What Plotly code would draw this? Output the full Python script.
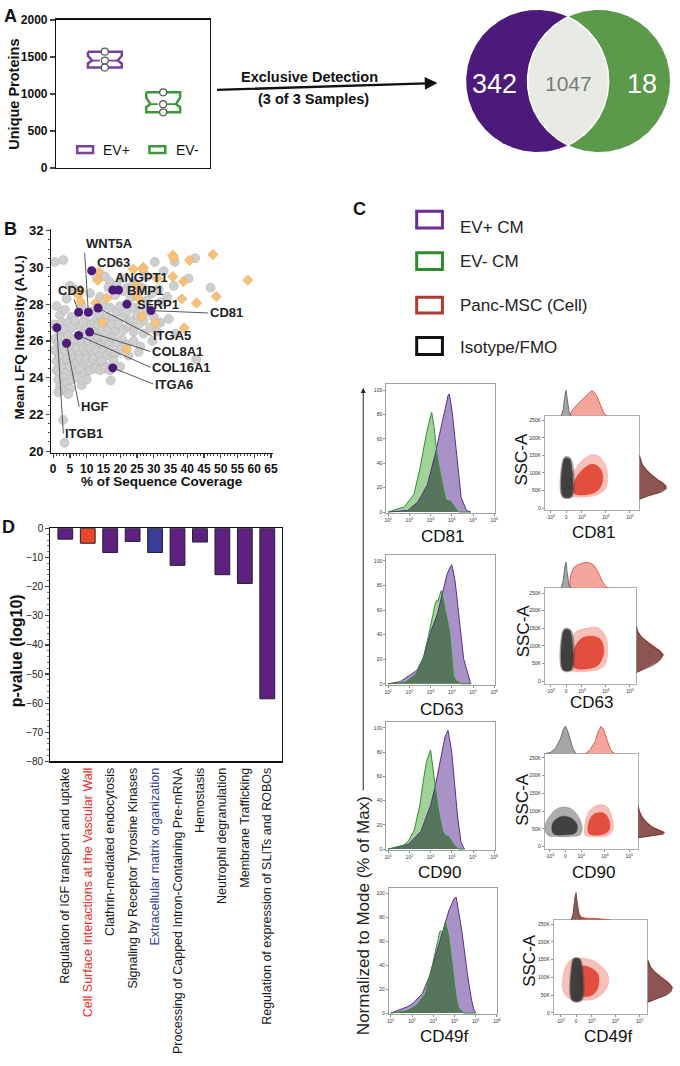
import numpy as np
import plotly.graph_objects as go

W, H = 680, 1066
SANS = "Arial, 'Liberation Sans', Helvetica, sans-serif"
NARROW = "'Liberation Sans Narrow', 'Arial Narrow', Arial, 'Liberation Sans', sans-serif"

# ============================ DATA ============================
# --- Panel A: number of unique proteins (3 samples per prep) ---
a_groups = ["EV+", "EV-"]
a_unique_ev_plus = [1570, 1450, 1355]
a_unique_ev_minus = [1020, 860, 750]
a_yticks = [0, 500, 1000, 1500, 2000]

# --- Venn: exclusive detection (3 of 3 samples): EV+ only, shared, EV- only ---
venn_counts = [342, 1047, 18]

# --- Panel B: % sequence coverage vs mean LFQ intensity ---
b_other_proteins = [
    (0.5, 30.3), (3.0, 30.4), (5.0, 29.0), (6.5, 28.8), (4.0, 28.3), (1.0, 27.9), (11.0, 28.6),
    (13.0, 29.5), (15.5, 29.5), (17.0, 29.2), (19.0, 29.0), (20.5, 29.4), (22.0, 28.9), (24.0, 29.2),
    (27.0, 29.7), (28.0, 29.5), (30.3, 30.3), (33.0, 29.8), (36.3, 30.3), (42.4, 30.5), (40.4, 29.4),
    (36.0, 29.0), (47.0, 28.9), (29.5, 28.6), (31.5, 28.8), (14.0, 28.4), (16.5, 28.9), (18.5, 28.5),
    (21.0, 28.7), (23.0, 28.3), (24.5, 28.6), (26.5, 28.9), (28.0, 28.2), (32.0, 28.1), (34.0, 28.4),
    (2.0, 27.4), (3.5, 27.7), (5.5, 27.3), (8.5, 27.9), (9.5, 27.2), (11.5, 27.6), (12.5, 27.1),
    (14.0, 27.4), (15.0, 27.9), (16.0, 27.3), (17.0, 27.8), (18.0, 27.2), (19.0, 27.6), (20.0, 27.9),
    (21.0, 27.3), (22.0, 27.6), (23.0, 27.1), (24.0, 27.8), (25.0, 27.4), (26.0, 27.9), (27.0, 27.1),
    (28.0, 27.6), (30.0, 27.3), (32.0, 27.0), (34.5, 27.2), (29.0, 26.7), (31.0, 26.5),
    (0.3, 26.9), (1.5, 26.6), (2.5, 27.0), (3.5, 26.6), (4.5, 27.0), (5.5, 26.7), (6.5, 27.1),
    (8.0, 26.8), (9.0, 27.0), (10.0, 26.6), (11.5, 26.9), (12.5, 26.5), (13.5, 26.9), (14.5, 26.6),
    (15.5, 27.0), (16.5, 26.6), (17.5, 26.9), (18.5, 26.5), (19.5, 26.9), (21.0, 26.6), (22.5, 26.8),
    (24.0, 26.5), (25.5, 26.9), (27.0, 26.4), (36.5, 26.4),
    (0.5, 26.1), (1.5, 25.9), (2.5, 26.2), (3.5, 26.1), (4.5, 26.3), (5.5, 25.9), (6.5, 26.1),
    (8.5, 26.0), (9.5, 26.3), (10.5, 25.9), (11.5, 26.2), (12.5, 25.9), (13.5, 26.2), (14.5, 25.8),
    (15.5, 26.1), (16.5, 25.8), (17.5, 26.2), (19.0, 25.9), (20.5, 26.1), (22.0, 25.8), (24.0, 26.0),
    (26.0, 25.7), (29.6, 26.0),
    (0.5, 25.5), (1.5, 25.3), (2.5, 25.6), (3.5, 25.4), (5.0, 25.6), (6.0, 25.3), (7.0, 25.6),
    (8.0, 25.3), (9.0, 25.6), (10.0, 25.4), (11.0, 25.6), (12.0, 25.3), (13.0, 25.5), (14.0, 25.2),
    (15.0, 25.5), (16.0, 25.2), (17.0, 25.5), (18.5, 25.3), (20.0, 25.5), (22.5, 25.2), (25.5, 25.4),
    (1.0, 24.9), (2.0, 25.1), (3.0, 24.8), (4.0, 25.0), (5.0, 24.8), (6.0, 25.0), (7.0, 24.8),
    (8.0, 25.0), (9.0, 24.7), (10.0, 25.0), (11.0, 24.8), (12.0, 25.0), (13.0, 24.7), (14.5, 24.9),
    (16.0, 24.6), (18.0, 24.9), (20.0, 24.6), (42.7, 25.0),
    (1.0, 24.4), (2.0, 24.2), (3.0, 24.5), (4.0, 24.3), (5.0, 24.6), (6.5, 24.3), (8.0, 24.5),
    (9.5, 24.2), (11.0, 24.4), (12.5, 24.5), (14.0, 24.4), (15.5, 24.5), (17.0, 24.4),
    (1.5, 23.9), (3.0, 24.0), (4.0, 23.7), (5.5, 23.9), (7.0, 24.0), (8.5, 23.6), (10.0, 23.9),
    (17.2, 23.85), (2.0, 23.5), (3.5, 23.3), (5.0, 23.4), (1.5, 23.2), (4.5, 23.1),
    (3.0, 21.7), (3.4, 20.45),
]
b_ev_exclusive = [
    (13.7, 29.76), (13.3, 29.3), (8.1, 28.77), (7.6, 28.47), (8.2, 28.15), (12.7, 28.06), (16.1, 28.33),
    (14.7, 27.0), (22.0, 25.55), (25.0, 28.5), (26.5, 27.34), (23.9, 29.9), (26.9, 30.0), (31.0, 29.4),
    (35.7, 30.66), (36.0, 30.5), (35.7, 29.5), (38.9, 29.23), (40.7, 30.39), (47.7, 30.7), (58.1, 29.31),
    (38.4, 28.29), (42.8, 28.06), (48.7, 28.42), (30.5, 26.98), (39.1, 26.7), (25.6, 28.3), (25.1, 29.04),
    (26.8, 29.94),
]
b_names = ["CD63", "ANGPT1", "BMP1", "SFRP1", "CD81", "CD9", "WNT5A", "ITGA5",
           "COL8A1", "COL16A1", "ITGA6", "HGF", "ITGB1"]
b_coverage = [11.5, 17.8, 19.5, 22.0, 29.2, 7.6, 10.5, 13.4, 10.9, 7.6, 17.8, 4.0, 1.1]
b_lfq = [29.82, 28.77, 28.77, 28.0, 27.65, 27.56, 27.56, 27.79, 26.48, 26.3, 24.53, 25.87, 26.72]

# --- Panel D: Reactome pathways ---
d_pathways = [
    "Regulation of IGF transport and uptake",
    "Cell Surface Interactions at the Vascular Wall",
    "Clathrin-mediated endocytosis",
    "Signaling by Receptor Tyrosine Kinases",
    "Extracellular matrix organization",
    "Processing of Capped Intron-Containing Pre-mRNA",
    "Hemostasis",
    "Neutrophil degranulation",
    "Membrane Trafficking",
    "Regulation of expression of SLITs and ROBOs",
]
d_log10_p = [-3.7, -5.1, -8.3, -4.5, -8.3, -12.7, -4.7, -15.9, -18.9, -58.5]
d_yticks = [0, -10, -20, -30, -40, -50, -60, -70, -80]

# --- Panel C: flow cytometry ---
c_markers = ["CD81", "CD63", "CD90", "CD49f"]
c_legend = ["EV+ CM", "EV- CM", "Panc-MSC (Cell)", "Isotype/FMO"]

# histograms: log10 fluorescence vs % of max
cd81_evp_log = [1.0, 1.9, 2.36, 2.82, 3.13, 3.36, 3.56, 3.7, 3.8, 3.88, 3.95, 4.05, 4.13, 4.29, 4.44, 4.67, 4.9]
cd81_evp_pct = [0, 1, 7, 20.6, 40, 59, 75.5, 88, 95, 97, 91, 78, 64.5, 34, 12, 1.4, 0]
cd81_evm_log = [1.0, 1.28, 1.74, 1.97, 2.2, 2.43, 2.59, 2.74, 2.9, 2.98, 3.05, 3.1, 3.16, 3.28, 3.51, 3.67, 3.8, 3.9, 4.0, 4.13, 4.29]
cd81_evm_pct = [0, 2, 3.6, 9.6, 13.7, 28.8, 45, 59, 72, 77, 82, 78, 70, 48, 26, 11, 9, 9.6, 7, 4, 0]

cd63_evp_log = [1.0, 1.5, 1.97, 2.36, 2.67, 2.9, 3.1, 3.3, 3.5, 3.7, 3.85, 4.0, 4.1, 4.2, 4.3, 4.45, 4.52, 4.75, 4.9]
cd63_evp_pct = [0, 1, 6, 11, 21, 37, 47, 55, 70, 85, 93, 97, 90, 78, 60, 35, 23, 7, 0]
cd63_evm_log = [1.3, 1.8, 2.28, 2.59, 2.82, 3.0, 3.15, 3.28, 3.35, 3.42, 3.51, 3.6, 3.75, 3.9, 3.97, 4.05, 4.15, 4.4]
cd63_evm_pct = [0, 1, 7, 16.5, 31.5, 48, 62, 68, 67, 72, 76, 66, 56, 42, 25, 8, 3, 0]

cd90_evp_log = [1.0, 1.9, 2.52, 2.9, 3.16, 3.36, 3.56, 3.67, 3.82, 3.98, 4.13, 4.29, 4.44, 4.6]
cd90_evp_pct = [0, 3, 13.5, 30, 46, 65, 84, 92, 98, 84, 51, 24, 5, 0]
cd90_evm_log = [1.0, 1.6, 1.9, 2.2, 2.43, 2.59, 2.74, 2.87, 3.0, 3.1, 3.2, 3.36, 3.51, 3.67, 3.82, 4.05, 4.29]
cd90_evm_pct = [0, 2, 5, 13.5, 30, 46, 67.5, 76, 82, 67.5, 51, 32.5, 17.5, 11, 11, 4, 0]

cd49f_evp_log = [1.0, 1.51, 1.98, 2.45, 2.76, 2.99, 3.23, 3.46, 3.7, 3.93, 4.08, 4.24, 4.44, 4.63, 4.86, 5.0]
cd49f_evp_pct = [0, 3, 7, 15, 27, 41, 57, 71, 84, 95, 97, 82, 57, 30, 5, 0]
cd49f_evm_log = [1.0, 1.65, 2.14, 2.61, 2.84, 3.1, 3.26, 3.35, 3.46, 3.57, 3.7, 3.85, 4.0, 4.16, 4.4]
cd49f_evm_pct = [0, 1, 5, 15, 30, 52, 67, 69, 67, 76, 68, 49, 22, 5, 0]

# scatter clouds (fluorescence, SSC-A) outlines of the cell (red) and isotype (grey) populations
cd81_iso_core = [(-134, 33e3), (229, 33e3), (229, 128e3), (150, 140e3), (-44, 142e3), (-134, 130e3)]
cd81_iso_outer = [(-180, 31e3), (300, 31e3), (300, 130e3), (150, 145e3), (-60, 146e3), (-180, 132e3)]
cd81_cell_outer = [(229, 36e3), (650, 31e3), (1830, 32e3), (4740, 38e3), (10100, 55e3), (12170, 90e3),
                   (10100, 120e3), (5220, 148e3), (2440, 152e3), (1115, 138e3), (510, 115e3), (229, 90e3)]
cd81_cell_core = [(387, 42e3), (1505, 38e3), (4740, 50e3), (7600, 80e3), (6300, 110e3), (2850, 125e3),
                  (1115, 110e3), (450, 80e3)]

cd63_iso_core = [(-134, 33e3), (229, 33e3), (229, 135e3), (150, 145e3), (-44, 147e3), (-134, 138e3)]
cd63_iso_outer = [(-180, 31e3), (300, 31e3), (300, 138e3), (150, 149e3), (-60, 150e3), (-180, 140e3)]
cd63_cell_outer = [(229, 32e3), (900, 27e3), (2440, 29e3), (5730, 35e3), (10100, 50e3), (12170, 90e3),
                   (10100, 128e3), (4740, 152e3), (1505, 150e3), (510, 140e3), (229, 110e3)]
cd63_cell_core = [(387, 40e3), (1505, 35e3), (4740, 45e3), (8350, 80e3), (6300, 118e3), (2440, 128e3),
                  (900, 120e3), (387, 90e3)]

cd90_iso_core = [(-650, 36e3), (0, 33e3), (510, 38e3), (650, 60e3), (279, 80e3), (-181, 85e3), (-730, 65e3)]
cd90_iso_outer = [(-1230, 32e3), (-387, 28e3), (279, 28e3), (900, 33e3), (1115, 55e3), (730, 85e3),
                  (229, 108e3), (-279, 110e3), (-900, 90e3), (-1660, 55e3)]
cd90_cell_outer = [(1505, 32e3), (3930, 28e3), (12170, 30e3), (21400, 45e3), (19460, 85e3), (12170, 112e3),
                   (5220, 118e3), (2220, 100e3), (1505, 70e3)]
cd90_cell_core = [(2220, 36e3), (6910, 33e3), (14680, 45e3), (14680, 75e3), (8350, 95e3), (3250, 90e3),
                  (2015, 60e3)]

cd49f_iso_core = [(-160, 36e3), (229, 36e3), (229, 140e3), (130, 152e3), (-100, 152e3), (-160, 140e3)]
cd49f_iso_outer = [(-200, 34e3), (280, 34e3), (280, 142e3), (130, 155e3), (-100, 155e3), (-200, 142e3)]
cd49f_cell_outer = [(-730, 60e3), (-300, 40e3), (229, 36e3), (1115, 38e3), (2440, 50e3), (4740, 75e3),
                    (4740, 110e3), (1830, 140e3), (650, 152e3), (-229, 150e3), (-650, 120e3)]
cd49f_cell_core = [(229, 50e3), (900, 48e3), (1830, 70e3), (1830, 110e3), (650, 130e3), (229, 130e3)]

# top marginal histograms (fluorescence, relative height)
cd81_top_iso_fl = [-229, -134, -44, 0, 44, 134, 229]
cd81_top_iso_h = [0, 0.25, 0.85, 1.0, 0.7, 0.15, 0]
cd81_top_cell_fl = [134, 279, 510, 900, 1505, 2220, 2690, 3570, 4740, 6300, 8350, 11090]
cd81_top_cell_h = [0, 0.2, 0.4, 0.58, 0.75, 0.9, 1.0, 0.9, 0.7, 0.4, 0.12, 0]
cd63_top_iso_fl = [-229, -134, -44, 0, 44, 134, 229]
cd63_top_iso_h = [0, 0.3, 0.9, 1.0, 0.6, 0.12, 0]
cd63_top_cell_fl = [134, 229, 387, 650, 1000, 1505, 2220, 3250, 4740, 6910, 10100, 13350]
cd63_top_cell_h = [0, 0.55, 0.8, 0.9, 0.95, 1.0, 0.97, 0.88, 0.65, 0.3, 0.07, 0]
cd90_top_iso_fl = [-1660, -900, -510, -229, -89, 0, 89, 229, 387, 575]
cd90_top_iso_h = [0, 0.05, 0.2, 0.55, 0.9, 1.0, 0.85, 0.45, 0.15, 0]
cd90_top_cell_fl = [1505, 2440, 3930, 5220, 6910, 9170, 12170, 17700, 25800]
cd90_top_cell_h = [0, 0.15, 0.45, 0.8, 1.0, 0.85, 0.5, 0.12, 0]
cd49f_top_iso_fl = [-229, -134, -44, 0, 44, 134, 229]
cd49f_top_iso_h = [0, 0.2, 0.8, 0.95, 0.6, 0.15, 0]
cd49f_top_cell_fl = [-229, -134, -44, 0, 44, 134, 229, 510, 1505, 3930, 6300]
cd49f_top_cell_h = [0, 0.2, 0.85, 1.0, 0.7, 0.25, 0.1, 0.06, 0.05, 0.02, 0]

# side marginal histograms (SSC-A, relative width)
cd81_side_ssc = [25e3, 35e3, 45e3, 55e3, 62e3, 70e3, 80e3, 95e3, 110e3, 125e3, 140e3, 150e3]
cd81_side_cell_w = [0, 0.3, 0.75, 0.95, 1.0, 0.9, 0.7, 0.45, 0.25, 0.1, 0.03, 0]
cd81_side_iso_w = [0, 0.35, 0.8, 1.0, 0.95, 0.85, 0.65, 0.42, 0.22, 0.1, 0.03, 0]
cd63_side_ssc = [25e3, 35e3, 45e3, 55e3, 65e3, 75e3, 85e3, 95e3, 110e3, 125e3, 140e3, 155e3]
cd63_side_cell_w = [0, 0.25, 0.55, 0.75, 0.9, 1.0, 0.9, 0.7, 0.45, 0.2, 0.06, 0]
cd63_side_iso_w = [0, 0.3, 0.6, 0.8, 0.92, 0.95, 0.85, 0.65, 0.4, 0.18, 0.05, 0]
cd90_side_ssc = [25e3, 30e3, 35e3, 40e3, 45e3, 55e3, 70e3, 85e3, 100e3, 115e3]
cd90_side_cell_w = [0, 0.6, 0.95, 1.0, 0.85, 0.55, 0.3, 0.15, 0.05, 0]
cd90_side_iso_w = [0, 0.55, 0.9, 0.95, 0.8, 0.5, 0.27, 0.12, 0.04, 0]
cd49f_side_ssc = [30e3, 40e3, 50e3, 60e3, 72e3, 85e3, 100e3, 115e3, 130e3, 150e3]
cd49f_side_cell_w = [0, 0.35, 0.7, 0.9, 1.0, 0.85, 0.55, 0.3, 0.12, 0]
cd49f_side_iso_w = [0, 0.4, 0.75, 0.95, 0.98, 0.8, 0.5, 0.27, 0.1, 0]

c_hist_ticks = [10, 100, 1000, 1e4, 1e5, 1e6]
c_hist_ticktext = ["10<sup>1</sup>", "10<sup>2</sup>", "10<sup>3</sup>", "10<sup>4</sup>", "10<sup>5</sup>", "10<sup>6</sup>"]
c_fl_ticks = [-1000, 0, 1000, 1e4, 1e5]
c_fl_ticktext = ["-10<sup>3</sup>", "0", "10<sup>3</sup>", "10<sup>4</sup>", "10<sup>5</sup>"]
c_ssc_ticks = [0, 50e3, 100e3, 150e3, 200e3, 250e3]
c_ssc_ticktext = ["0", "50K", "100K", "150K", "200K", "250K"]

# tables assembled from the named arrays
C_HIST = [(cd81_evp_log, cd81_evp_pct, cd81_evm_log, cd81_evm_pct),
          (cd63_evp_log, cd63_evp_pct, cd63_evm_log, cd63_evm_pct),
          (cd90_evp_log, cd90_evp_pct, cd90_evm_log, cd90_evm_pct),
          (cd49f_evp_log, cd49f_evp_pct, cd49f_evm_log, cd49f_evm_pct)]
C_CLOUD = [(cd81_cell_outer, cd81_cell_core, cd81_iso_outer, cd81_iso_core),
           (cd63_cell_outer, cd63_cell_core, cd63_iso_outer, cd63_iso_core),
           (cd90_cell_outer, cd90_cell_core, cd90_iso_outer, cd90_iso_core),
           (cd49f_cell_outer, cd49f_cell_core, cd49f_iso_outer, cd49f_iso_core)]
C_TOP = [(cd81_top_iso_fl, cd81_top_iso_h, cd81_top_cell_fl, cd81_top_cell_h),
         (cd63_top_iso_fl, cd63_top_iso_h, cd63_top_cell_fl, cd63_top_cell_h),
         (cd90_top_iso_fl, cd90_top_iso_h, cd90_top_cell_fl, cd90_top_cell_h),
         (cd49f_top_iso_fl, cd49f_top_iso_h, cd49f_top_cell_fl, cd49f_top_cell_h)]
C_SIDE = [(cd81_side_ssc, cd81_side_cell_w, cd81_side_iso_w),
          (cd63_side_ssc, cd63_side_cell_w, cd63_side_iso_w),
          (cd90_side_ssc, cd90_side_cell_w, cd90_side_iso_w),
          (cd49f_side_ssc, cd49f_side_cell_w, cd49f_side_iso_w)]

# ============================ HELPERS ============================
def xk(i): return "xaxis" if i == 1 else f"xaxis{i}"
def yk(i): return "yaxis" if i == 1 else f"yaxis{i}"
def xr(i): return "x" if i == 1 else f"x{i}"
def yr(i): return "y" if i == 1 else f"y{i}"
def dom_x(a, b): return [a / W, b / W]
def dom_y(top, bot): return [1 - bot / H, 1 - top / H]
def PX(x): return x / W
def PY(y): return 1 - y / H

def biex(v):
    return 10.64 * np.arcsinh(np.asarray(v, dtype=float) / 470.0)

fig = go.Figure()
LAY = {}
ann = []
shp = []

def text(x, y, s, size=12, color="#111", bold=False, xanchor="center", yanchor="middle", angle=0, family=SANS):
    ann.append(dict(x=PX(x), y=PY(y), xref="paper", yref="paper", text=s, showarrow=False,
                    xanchor=xanchor, yanchor=yanchor, textangle=angle,
                    font=dict(family=family, size=size, color=color, weight="bold" if bold else "normal")))

BASE_AX = dict(showgrid=False, zeroline=False, fixedrange=True)

# ============================ PANEL A ============================
A_COL = ["#7b3f9e", "#3a9a3a"]
A_W, A_NW, A_MW = 0.29, 0.22, 0.24
LAY[xk(1)] = dict(BASE_AX, domain=dom_x(55, 210), range=[-0.83, 1.8], showline=True, mirror=True,
                  linecolor="#111", linewidth=1.5, showticklabels=False, ticks="", anchor="y")
LAY[yk(1)] = dict(BASE_AX, domain=dom_y(13, 163), range=[0, 2000], tickvals=a_yticks, showline=True,
                  mirror=True, linecolor="#111", linewidth=1.5, ticks="outside", ticklen=5, tickwidth=1.5,
                  tickfont=dict(family=SANS, size=12, color="#111", weight="bold"), anchor="x")
for c, vals, col in zip([0, 1], [a_unique_ev_plus, a_unique_ev_minus], A_COL):
    v = np.array(vals, dtype=float)
    q1, med, q3 = v.min(), np.median(v), v.max()
    s = 0.26 * (q3 - q1)
    bx = [c - A_W, c + A_W, c + A_W, c + A_NW, c + A_W, c + A_W, c - A_W, c - A_W, c - A_NW, c - A_W, c - A_W]
    by = [q3, q3, q3 - s, med, q1 + s, q1, q1, q1 + s, med, q3 - s, q3]
    fig.add_trace(go.Scatter(x=bx, y=by, mode="lines", line=dict(color=col, width=2.5), xaxis="x", yaxis="y"))
    fig.add_trace(go.Scatter(x=[c - A_MW, c + A_MW], y=[med, med], mode="lines",
                             line=dict(color=col, width=1.8, dash="dash"), xaxis="x", yaxis="y"))
    fig.add_trace(go.Scatter(x=[c] * len(v), y=v, mode="markers",
                             marker=dict(size=7, color="white", line=dict(color="#555", width=1.2)),
                             xaxis="x", yaxis="y"))
# legend of panel A
for (x0, x1, tx), col, lab in zip([(76, 92, 100), (149, 165, 174)], A_COL, a_groups):
    shp.append(dict(type="rect", xref="paper", yref="paper", x0=PX(x0), x1=PX(x1), y0=PY(148), y1=PY(141),
                    line=dict(color=col, width=2.5), fillcolor="white"))
    text(tx, 145, lab, size=14, xanchor="left")
text(12, 88, "Unique Proteins", size=14.5, bold=True, angle=-90)
text(9, 9, "A", size=18, bold=True)

# arrow + text
ann.append(dict(x=PX(440), y=PY(77), xref="paper", yref="paper", ax=-222, ay=7, axref="pixel", ayref="pixel",
                showarrow=True, arrowhead=2, arrowsize=1.1, arrowwidth=2.3, arrowcolor="#111", text=""))
text(311, 71, "Exclusive Detection", size=14.5, bold=True)
text(315, 93, "(3 of 3 Samples)", size=14.5, bold=True)

# ============================ VENN ============================
VC = [(541.0, 75.0), (603.0, 75.0)]
VR = 72.0
LAY[xk(4)] = dict(BASE_AX, domain=dom_x(455, 680), range=[455, 680], visible=False, anchor="y4")
LAY[yk(4)] = dict(BASE_AX, domain=dom_y(0, 155), range=[155, 0], visible=False, anchor="x4")
th = np.linspace(0, 2 * np.pi, 361)
for (cx, cy), col in zip(VC, ["#4b1a7b", "#5b9a4a"]):
    fig.add_trace(go.Scatter(x=cx + VR * np.cos(th), y=cy + VR * np.sin(th), mode="lines", fill="toself",
                             fillcolor=col, line=dict(width=0), xaxis="x4", yaxis="y4"))
half = (VC[1][0] - VC[0][0]) / 2
alpha = np.arccos(half / VR)
t1 = np.linspace(-alpha, alpha, 120)
t2 = np.linspace(np.pi - alpha, np.pi + alpha, 120)
lx = np.concatenate([VC[0][0] + VR * np.cos(t1), VC[1][0] + VR * np.cos(t2)])
ly = np.concatenate([VC[0][1] + VR * np.sin(t1), VC[1][1] + VR * np.sin(t2)])
fig.add_trace(go.Scatter(x=lx, y=ly, mode="lines", fill="toself", fillcolor="#e7ebe3",
                         line=dict(color="white", width=1.5), xaxis="x4", yaxis="y4"))
text(498, 78, str(venn_counts[0]), size=27, color="white", family=NARROW)
text(572, 78, str(venn_counts[1]), size=21, color="#7a7a7a", family=NARROW)
text(647, 78, str(venn_counts[2]), size=27, color="white", family=NARROW)

# ============================ PANEL B ============================
def bx_(p): return (p - 51.7) / 3.385
def by_(p): return 32 - (p - 226.7) / 18.6

LAY[xk(2)] = dict(BASE_AX, domain=dom_x(50.0, 273.4), range=[-0.5, 65.5], tickvals=list(range(0, 70, 5)),
                  showline=True, linecolor="#111", linewidth=1.5, ticks="outside", ticklen=4, tickwidth=1.2,
                  minor=dict(dtick=1, ticks="outside", ticklen=2, tickwidth=1),
                  tickfont=dict(family=SANS, size=12, color="#111", weight="bold"), anchor="y2")
LAY[yk(2)] = dict(BASE_AX, domain=dom_y(224.8, 451.9), range=[19.9, 32.1], tickvals=list(range(20, 34, 2)),
                  showline=True, linecolor="#111", linewidth=1.5, ticks="outside", ticklen=4, tickwidth=1.2,
                  minor=dict(dtick=0.5, ticks="outside", ticklen=2, tickwidth=1),
                  tickfont=dict(family=SANS, size=13, color="#111", weight="bold"), anchor="x2")
fig.add_trace(go.Scatter(x=[p[0] for p in b_other_proteins], y=[p[1] for p in b_other_proteins], mode="markers",
                         marker=dict(size=9, color="#cfcfcf", line=dict(color="#b3b3b3", width=0.6)),
                         xaxis="x2", yaxis="y2", cliponaxis=False))
fig.add_trace(go.Scatter(x=[p[0] for p in b_ev_exclusive], y=[p[1] for p in b_ev_exclusive], mode="markers",
                         marker=dict(size=8, symbol="diamond", color="#f6c27c", line=dict(color="#e8a850", width=0.6)),
                         xaxis="x2", yaxis="y2"))
fig.add_trace(go.Scatter(x=b_coverage, y=b_lfq, mode="markers",
                         marker=dict(size=9, color="#4b1a7b"), xaxis="x2", yaxis="y2", cliponaxis=False))
B_LABEL_POS = {  # label pixel anchor, anchor side, leader line
    "CD63": (94, 259, "left", False), "ANGPT1": (112, 274, "left", False),
    "BMP1": (124, 287, "left", False), "SFRP1": (134, 301, "left", False),
    "CD81": (208, 310, "left", True), "CD9": (69.5, 287, "center", True),
    "WNT5A": (83, 240, "left", True), "ITGA5": (151, 333, "left", True),
    "COL8A1": (150, 349, "left", True), "COL16A1": (150, 365, "left", True),
    "ITGA6": (153, 382, "left", True), "HGF": (78, 405, "left", True),
    "ITGB1": (62, 432, "left", True),
}
for name, cx, cy in zip(b_names, b_coverage, b_lfq):
    lx_, ly_, anc, line = B_LABEL_POS[name]
    f = dict(family=SANS, size=13, color="#222", weight="bold")
    if line:
        ann.append(dict(x=cx, y=cy, xref="x2", yref="y2", ax=bx_(lx_), ay=by_(ly_), axref="x2", ayref="y2",
                        text=name, showarrow=True, arrowhead=0, arrowwidth=0.9, arrowcolor="#444",
                        standoff=2, xanchor=anc, yanchor="middle", font=f))
    else:
        ann.append(dict(x=bx_(lx_), y=by_(ly_), xref="x2", yref="y2", text=name, showarrow=False,
                        xanchor=anc, yanchor="middle", font=f))
text(18, 335, "Mean LFQ Intensity (A.U.)", size=13.5, bold=True, angle=-90)
text(162, 481, "% of Sequence Coverage", size=13.5, bold=True)
text(9, 225, "B", size=18, bold=True)

# ============================ PANEL D ============================
D_COL = ["#5e2180", "#e8472a", "#5e2180", "#5e2180", "#3a3d97", "#5e2180", "#5e2180", "#5e2180", "#5e2180", "#5e2180"]
D_TXT_COL = ["#1a1a1a", "#e8312a", "#1a1a1a", "#1a1a1a", "#3a3d97", "#1a1a1a", "#1a1a1a", "#1a1a1a", "#1a1a1a", "#1a1a1a"]
d_x = list(range(len(d_pathways)))
LAY[xk(3)] = dict(BASE_AX, domain=dom_x(49, 283), range=[-0.66, 9.66], tickvals=d_x,
                  ticktext=[f"<span style='color:{c}'>{t}</span>" for t, c in zip(d_pathways, D_TXT_COL)],
                  tickangle=-90, ticks="", showline=True, mirror=True, linecolor="#111", linewidth=1.3,
                  tickfont=dict(family=SANS, size=12.5, color="#1a1a1a"), anchor="y3", side="bottom")
LAY[yk(3)] = dict(BASE_AX, domain=dom_y(528.3, 764.5), range=[-80, 0], tickvals=d_yticks,
                  showline=True, mirror=True, linecolor="#111", linewidth=1.3, ticks="outside", ticklen=4,
                  tickwidth=1.2, minor=dict(dtick=2, ticks="outside", ticklen=2, tickwidth=0.8),
                  tickfont=dict(family=NARROW, size=10, color="#222"), anchor="x3")
fig.add_trace(go.Bar(x=d_x, y=d_log10_p, width=0.66, marker=dict(color=D_COL, line=dict(color="#222", width=1)),
                     xaxis="x3", yaxis="y3"))
text(15, 652, "p-value (log10)", size=16, bold=True, angle=-90)
text(7, 527, "D", size=18, bold=True)

# ============================ PANEL C ============================
text(361, 205, "C", size=18, bold=True)
C_LEG_COL = ["#6a2d90", "#2e8b2e", "#b03a2e", "#111111"]
C_LEG_Y = [(207, 224, 223), (249, 266, 258), (294, 310, 302), (335, 352, 345)]
for (t0, t1, ty), col, lab in zip(C_LEG_Y, C_LEG_COL, c_legend):
    shp.append(dict(type="rect", xref="paper", yref="paper", x0=PX(419), x1=PX(445), y0=PY(t1), y1=PY(t0),
                    line=dict(color=col, width=3)))
    text(461, ty, lab, size=17, color="#222", xanchor="left")
# vertical axis arrow + label
ann.append(dict(x=PX(365), y=PY(386), xref="paper", yref="paper", ax=0, ay=404, axref="pixel", ayref="pixel",
                showarrow=True, arrowhead=2, arrowsize=1, arrowwidth=1, arrowcolor="#222", text=""))
text(366, 921, "Normalized to Mode (% of Max)", size=17, color="#222", angle=-90)

C_POS = [  # layout of each row (pixels)
    dict(hl=388, hr=498, ht=382, hb=513, sl=548.3, sr=644, st=414.3, sb=510, z=570, y0=507.7, k=17.8, mt=388, mr=672,
         lh=(445, 537), ls=(598, 532), lssc=(525, 458)),
    dict(hl=388, hr=498, ht=555, hb=687, sl=548.3, sr=641, st=589, sb=686, z=570, y0=683.3, k=17.9, mt=562, mr=669,
         lh=(444, 711.7), ls=(596, 705), lssc=(527, 632)),
    dict(hl=388, hr=498, ht=724.3, hb=854.5, sl=548.3, sr=642.7, st=756.7, sb=853.3, z=569.3, y0=850.7, k=17.95,
         mt=728.3, mr=670, lh=(442, 876.7), ls=(598, 876.7), lssc=(525.7, 803)),
    dict(hl=390.7, hr=500.7, ht=892.3, hb=1020.7, sl=557.3, sr=652.3, st=925, sb=1020.7, z=580, y0=1019.3, k=18,
         mt=896.7, mr=678, lh=(446.7, 1043), ls=(612, 1043), lssc=(533, 966)),
]
TINY = dict(family=SANS, size=5, color="#333")
P_FILL, G_FILL, OV_FILL = "#a993c6", "#9fd398", "#56755c"
P_LINE, G_LINE = "#5b2d8e", "#2f8f2f"

for i, (marker, pos, hist, cloud, top, side) in enumerate(zip(c_markers, C_POS, C_HIST, C_CLOUD, C_TOP, C_SIDE)):
    ih, isc, it, isd = 5 + i, 9 + i, 13 + i, 17 + i
    # ---- histogram ----
    LAY[xk(ih)] = dict(BASE_AX, domain=dom_x(pos["hl"], pos["hr"]), type="log", range=[0.9, 6.03],
                       tickvals=c_hist_ticks, ticktext=c_hist_ticktext, ticks="outside", ticklen=2, tickwidth=0.6,
                       showline=True, mirror=True, linecolor="#888", linewidth=0.8, tickfont=TINY,
                       anchor=yr(ih))
    LAY[yk(ih)] = dict(BASE_AX, domain=dom_y(pos["ht"], pos["hb"]), range=[-1, 105],
                       tickvals=[0, 20, 40, 60, 80, 100], ticks="outside", ticklen=2, tickwidth=0.6,
                       showline=True, mirror=True, linecolor="#888", linewidth=0.8, tickfont=TINY,
                       anchor=xr(ih))
    plog, ppct, mlog, mpct = hist
    g = np.linspace(min(plog[0], mlog[0]), max(plog[-1], mlog[-1]), 400)
    pv = np.interp(g, plog, ppct, left=0, right=0)
    mv = np.interp(g, mlog, mpct, left=0, right=0)
    ov = np.minimum(pv, mv)
    X = 10 ** g
    for yy, fc in [(pv, P_FILL), (mv, G_FILL), (ov, OV_FILL)]:
        fig.add_trace(go.Scatter(x=X, y=yy, mode="lines", line=dict(width=0), fill="tozeroy", fillcolor=fc,
                                 xaxis=xr(ih), yaxis=yr(ih)))
    fig.add_trace(go.Scatter(x=X, y=pv, mode="lines", line=dict(color=P_LINE, width=1), xaxis=xr(ih), yaxis=yr(ih)))
    fig.add_trace(go.Scatter(x=X, y=mv, mode="lines", line=dict(color=G_LINE, width=1), xaxis=xr(ih), yaxis=yr(ih)))
    text(pos["lh"][0], pos["lh"][1], marker, size=17, color="#111")

    # ---- scatter ----
    xrange_ = [pos["sl"] - pos["z"], pos["sr"] - pos["z"]]
    yrange_ = [(pos["y0"] - pos["sb"]) / pos["k"] * 50e3, (pos["y0"] - pos["st"]) / pos["k"] * 50e3]
    LAY[xk(isc)] = dict(BASE_AX, domain=dom_x(pos["sl"], pos["sr"]), range=xrange_,
                        tickvals=list(biex(c_fl_ticks)), ticktext=c_fl_ticktext, ticks="outside", ticklen=2,
                        tickwidth=0.6, showline=True, mirror=True, linecolor="#999", linewidth=0.8,
                        tickfont=TINY, anchor=yr(isc))
    LAY[yk(isc)] = dict(BASE_AX, domain=dom_y(pos["st"], pos["sb"]), range=yrange_,
                        tickvals=c_ssc_ticks, ticktext=c_ssc_ticktext, ticks="outside", ticklen=2, tickwidth=0.6,
                        showline=True, mirror=True, linecolor="#999", linewidth=0.8, tickfont=TINY,
                        anchor=xr(isc))
    c_out, c_core, i_out, i_core = cloud
    for poly, fc in [(c_out, "rgba(232,75,55,0.35)"), (c_core, "rgba(225,58,40,0.85)"),
                     (i_out, "rgba(70,70,70,0.45)"), (i_core, "rgba(58,58,58,0.95)")]:
        xs = list(biex([p[0] for p in poly])) + [float(biex(poly[0][0]))]
        ys = [p[1] for p in poly] + [poly[0][1]]
        fig.add_trace(go.Scatter(x=xs, y=ys, mode="lines", fill="toself", fillcolor=fc,
                                 line=dict(width=0.5, color=fc, shape="spline", smoothing=1.0),
                                 xaxis=xr(isc), yaxis=yr(isc)))
    text(pos["ls"][0], pos["ls"][1], marker, size=17, color="#111")
    text(pos["lssc"][0], pos["lssc"][1], "SSC-A", size=17, color="#111", angle=-90)

    # ---- top marginal ----
    LAY[xk(it)] = dict(BASE_AX, domain=dom_x(pos["sl"], pos["sr"]), range=xrange_, visible=False, anchor=yr(it))
    LAY[yk(it)] = dict(BASE_AX, domain=dom_y(pos["mt"], pos["st"]), range=[0, 1.02], visible=False, anchor=xr(it))
    ifl, ih_, cfl, ch_ = top
    dark = (i == 3)
    cell_fc = "#a0504b" if dark else "rgba(241,150,138,0.85)"
    fig.add_trace(go.Scatter(x=biex(cfl), y=ch_, mode="lines", fill="tozeroy", fillcolor=cell_fc,
                             line=dict(color="#e0402f", width=0.8), xaxis=xr(it), yaxis=yr(it)))
    fig.add_trace(go.Scatter(x=biex(ifl), y=ih_, mode="lines", fill="tozeroy",
                             fillcolor="rgba(110,110,110,0.45)" if dark else "rgba(150,150,150,0.85)",
                             line=dict(color="#555", width=0.8), xaxis=xr(it), yaxis=yr(it)))

    # ---- side marginal ----
    LAY[xk(isd)] = dict(BASE_AX, domain=dom_x(pos["sr"], pos["mr"]), range=[0, 1.02], visible=False, anchor=yr(isd))
    LAY[yk(isd)] = dict(BASE_AX, domain=dom_y(pos["st"], pos["sb"]), range=yrange_, visible=False, anchor=xr(isd))
    sssc, scw, siw = side
    fig.add_trace(go.Scatter(x=scw, y=sssc, mode="lines", fill="tozerox", fillcolor="#a4544f",
                             line=dict(color="#e0402f", width=0.9), xaxis=xr(isd), yaxis=yr(isd)))
    fig.add_trace(go.Scatter(x=siw, y=sssc, mode="lines", fill="tozerox", fillcolor="rgba(90,90,90,0.3)",
                             line=dict(color="#444", width=0.8), xaxis=xr(isd), yaxis=yr(isd)))

fig.update_traces(showlegend=False, hoverinfo="skip")
fig.update_layout(
    width=W, height=H, autosize=False, margin=dict(l=0, r=0, t=0, b=0),
    paper_bgcolor="white", plot_bgcolor="rgba(0,0,0,0)", showlegend=False, hovermode=False,
    font=dict(family=SANS, color="#111"), annotations=ann, shapes=shp, bargap=0.34, **LAY,
)
fig.write_html("out.html", config={"displayModeBar": False, "staticPlot": True},
               post_script="document.body.style.margin='0';document.body.style.overflow='hidden';")
